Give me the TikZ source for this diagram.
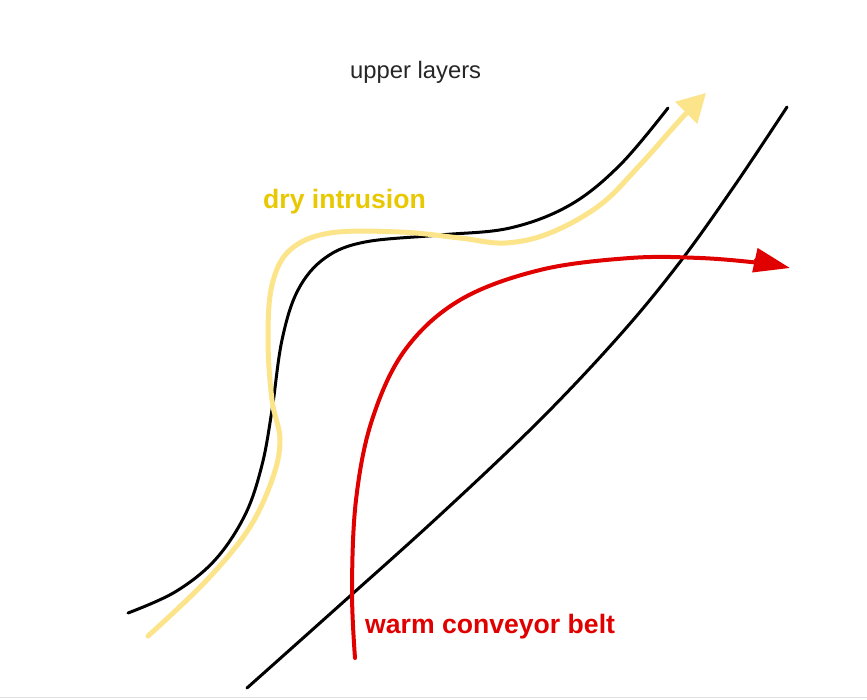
\documentclass[tikz,border=0pt]{standalone}
\usepackage{fontspec}
\setmainfont{Liberation Sans}
\usetikzlibrary{arrows.meta}
\definecolor{dryline}{HTML}{FCE48A}
\definecolor{drytext}{HTML}{E8C800}
\definecolor{wcbred}{HTML}{E00000}
\tikzset{
  front/.style={line width=3pt, black, line cap=round},
  dryflow/.style={line width=5pt, dryline, line cap=round, -{Triangle[length=28pt,width=30pt]}},
  wcbflow/.style={line width=4pt, wcbred, line cap=round, -{Triangle[length=36pt,width=24pt]}},
  lbl/.style={inner sep=0pt, anchor=base west}
}
\begin{document}
\begin{tikzpicture}[x=1pt,y=-1pt]
\useasboundingbox (0,0) rectangle (867,699);
\fill[white] (0,0) rectangle (867,699);
\draw[line width=1pt, black!12] (0,697.5) -- (867,697.5);
% left front (black)
\draw[front] plot[smooth, tension=0.6] coordinates {(128,613) (175,592) (215,560) (245,515) (262,465) (272,410) (282,340) (298,290) (325,258) (365,242) (440,235) (510,228) (570,205) (620,165) (668,108)};
% right front (black)
\draw[front] plot[smooth, tension=0.6] coordinates {(247,688) (340,605) (440,515) (540,420) (620,335) (680,262) (735,185) (787,107)};
% dry intrusion
\draw[dryflow] plot[smooth, tension=0.6] coordinates {(148,636) (205,582) (248,530) (272,480) (280,440) (272,400) (268,340) (272,285) (290,250) (330,233) (400,232) (460,238) (505,243) (550,233) (600,205) (640,165) (680,120) (706,93)};
% warm conveyor belt
\draw[wcbflow] plot[smooth, tension=0.6] coordinates {(355,658) (352,590) (356,500) (372,420) (405,350) (460,300) (540,270) (630,258) (700,258) (760,263) (790,268)};
\node[lbl, font=\fontsize{23.8}{28}\selectfont, text=black!85] (upper) at (350,78) {upper layers};
\node[lbl, font=\fontsize{26.6}{32}\selectfont\bfseries, text=drytext] (dry) at (263,208) {dry intrusion};
\node[lbl, font=\fontsize{26.6}{32}\selectfont\bfseries, text=wcbred] (wcb) at (365,633) {warm conveyor belt};
\end{tikzpicture}
\end{document}
